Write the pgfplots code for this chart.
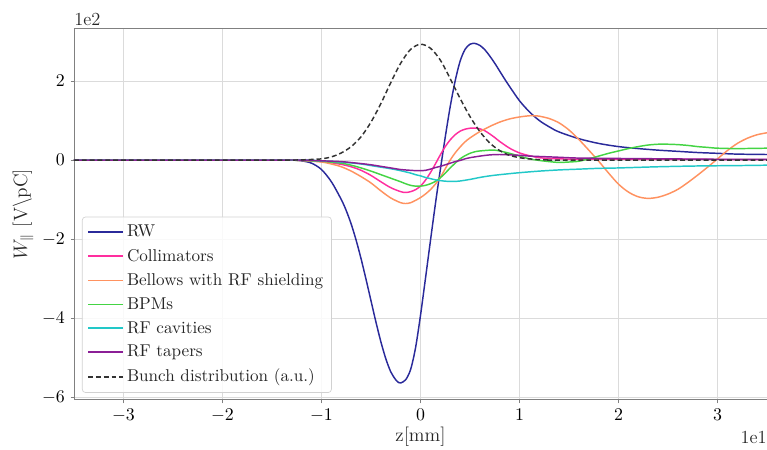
\documentclass[border=0pt]{standalone}
\usepackage{pgfplots}
\pgfplotsset{compat=1.18}

\definecolor{cRW}{HTML}{2A2A9A}
\definecolor{cColl}{HTML}{FF2E9F}
\definecolor{cBell}{HTML}{FF9260}
\definecolor{cBPM}{HTML}{44D444}
\definecolor{cCav}{HTML}{22C8C8}
\definecolor{cTap}{HTML}{8B1F96}
\definecolor{cBunch}{HTML}{333333}

\begin{document}
\begin{tikzpicture}
\useasboundingbox (-45.4pt,-30.1pt) rectangle (425.2pt,245.4pt);
\begin{axis}[
  name=ax, at={(0,0)}, anchor=south west,
  scale only axis, width=425.2pt, height=228.2pt,
  xmin=-35, xmax=35, ymin=-607, ymax=334,
  xtick={-30,-20,...,30}, xticklabels={$-3$,$-2$,$-1$,$0$,$1$,$2$,$3$},
  ytick={-600,-400,-200,0,200}, yticklabels={$-6$,$-4$,$-2$,$0$,$2$},
  grid=major, major grid style={color=black!14, line width=0.6pt},
  axis x line*=box, axis y line*=left,
  axis line style={-, color=black!50, line width=0.6pt},
  tick pos=left, tick align=outside, major tick length=2.1pt,
  tick style={color=black!50, line width=0.6pt},
  tick label style={font=\fontsize{11.3}{13}\selectfont},
  every axis x label/.style={at={(axis description cs:0.5,-0.0995)}, anchor=center},
  every axis y label/.style={at={(axis description cs:-0.0736,0.5)}, rotate=90, anchor=center},
  label style={font=\fontsize{11.8}{13}\selectfont, color=black!85},
  xlabel={z[mm]},
  ylabel={$W_{\parallel}$ [V\textbackslash pC]},
  legend cell align=left,
  legend image code/.code={\draw[#1, line width=1.1pt] (0cm,0cm) -- (0.75cm,0cm);},
  legend style={at={(axis description cs:0.0115,0.019)}, anchor=south west,
    draw=black!18, rounded corners=2pt, fill=white, fill opacity=0.85, text opacity=1,
    font=\fontsize{10.5}{12}\selectfont, text=black!85, row sep=2pt, inner sep=3pt},
]
% RW
\addplot[cRW, line width=0.9pt, smooth] coordinates {
(-35,0) (-16,0) (-13,0) (-12,-2) (-11,-8) (-10,-24) (-9,-55) (-8,-100) (-7.5,-128) (-7,-162)
(-6.5,-203) (-6,-250) (-5.5,-302) (-5,-356) (-4.5,-410) (-4,-460) (-3.5,-503) (-3,-536)
(-2.5,-556) (-2.2,-563) (-2,-564) (-1.5,-556) (-1,-530) (-0.5,-475) (0,-393) (0.5,-300)
(1,-205) (1.5,-112) (2,-25) (2.5,58) (3,135) (3.5,200) (4,250) (4.5,280) (5,293) (5.5,295)
(6,290) (6.5,279) (7,263) (7.5,245) (8,225) (8.5,205) (9,186) (10,150) (11,122) (12,100)
(13,84) (14,71) (16,54) (18,42) (20,34) (22,29) (24,25) (26,22) (28,19) (30,17) (32,15) (35,14)
};
\addlegendentry{RW}
% Collimators
\addplot[cColl, line width=0.9pt, smooth] coordinates {
(-35,0) (-16,0) (-14,0) (-12,-1) (-10,-4) (-9,-7) (-8,-11) (-7,-17) (-6,-26) (-5,-39)
(-4,-55) (-3,-70) (-2,-80) (-1.5,-82) (-1,-80) (-0.5,-75) (0,-66) (0.5,-51) (1,-32)
(1.5,-10) (2,13) (2.5,34) (3,51) (3.5,64) (4,73) (4.5,78) (5,80.5) (5.5,81) (6,79) (6.5,74)
(7,66) (7.5,57) (8,47) (9,30) (10,18) (11,11) (12,6) (13,4) (14,3) (16,2) (20,2) (35,1)
};
\addlegendentry{Collimators}
% Bellows
\addplot[cBell, line width=0.9pt, smooth] coordinates {
(-35,0) (-16,0) (-14,0) (-12,-1) (-10,-5) (-9,-10) (-8,-17) (-7,-28) (-6,-42) (-5,-58)
(-4,-78) (-3,-96) (-2,-108) (-1.5,-110) (-1,-108) (-0.5,-102) (0,-95) (0.5,-86) (1,-75)
(1.5,-61) (2,-44) (2.5,-22) (3,0) (3.5,18) (4,33) (4.5,46) (5,56) (6,72) (7,85) (8,96)
(9,104) (10,109) (11,112) (11.5,112) (12,111) (13,105) (14,94) (15,76) (16,52) (17,25)
(18,-3) (19,-33) (20,-61) (21,-81) (22,-93) (23,-97) (24,-94) (25,-86) (26,-74) (27,-57)
(28,-38) (29,-18) (30,3) (31,24) (32,42) (33,55) (34,64) (35,69)
};
\addlegendentry{Bellows with RF shielding}
% BPMs
\addplot[cBPM, line width=0.9pt, smooth] coordinates {
(-35,0) (-16,0) (-14,0) (-12,-1) (-10,-3) (-8,-8) (-7,-13) (-6,-20) (-5,-28) (-4,-37)
(-3,-46) (-2,-55) (-1.5,-60) (-1,-64) (-0.5,-66) (0,-66) (0.5,-64) (1,-60) (1.5,-54)
(2,-45) (2.5,-33) (3,-20) (3.5,-8) (4,3) (4.5,11) (5,17) (5.5,21) (6,23) (7,25) (7.5,25)
(8,23) (9,17) (10,10) (11,3) (12,-1) (13,-4) (14,-6) (15,-5) (16,-3) (17,3) (18,10)
(19,17) (20,23) (21,29) (22,34) (23,38) (24,40) (25,40) (26,39) (27,37) (28,34) (29,32)
(30,30) (32,29) (35,30)
};
\addlegendentry{BPMs}
% RF cavities
\addplot[cCav, line width=0.9pt, smooth] coordinates {
(-35,0) (-16,0) (-12,0) (-10,-2) (-8,-5) (-6,-10) (-5,-14) (-4,-18) (-3,-22) (-2,-27)
(-1,-33) (-0.5,-37) (0,-40) (0.5,-44) (1,-47) (1.5,-50) (2,-52) (2.5,-53.5) (3,-54)
(3.5,-54) (4,-53) (5,-49) (6,-44) (7,-40) (8,-37) (10,-32) (12,-28) (14,-25) (16,-23)
(18,-21) (20,-20) (24,-17) (28,-15) (32,-14) (35,-13)
};
\addlegendentry{RF cavities}
% RF tapers
\addplot[cTap, line width=0.9pt, smooth] coordinates {
(-35,0) (-16,0) (-12,0) (-10,-2) (-8,-4) (-6,-9) (-5,-12) (-4,-16) (-3,-20) (-2,-24)
(-1,-26) (-0.3,-27) (0,-27) (0.5,-26) (1,-23) (1.5,-19) (2,-16) (2.5,-12) (3,-8) (3.5,-4)
(4,-1) (4.5,3) (5,6) (5.5,8) (6,10) (7,13) (8,14) (9,13) (10,12) (11,10) (12,9) (14,7)
(16,5) (20,4) (25,3) (30,2) (35,2)
};
\addlegendentry{RF tapers}
% Bunch distribution
\addplot[cBunch, line width=0.9pt, dash pattern=on 3pt off 1.8pt, smooth] coordinates {
(-35,0) (-16,0) (-13,0) (-12,0.5) (-11,1.5) (-10,3) (-9,8) (-8,18) (-7,34) (-6,59)
(-5,96) (-4,143) (-3,196) (-2,245) (-1,280) (0,293) (1,283) (2,253) (3,206) (4,156)
(5,110) (6,72) (7,43) (8,24) (9,12) (10,6) (11,3) (12,1) (13,0.5) (14,0) (35,0)
};
\addlegendentry{Bunch distribution (a.u.)}
\end{axis}
\node[anchor=south west, inner sep=0pt, font=\fontsize{11.3}{13}\selectfont, text=black!85] at (0pt,229.4pt) {1e2};
\node[anchor=east, inner sep=0pt, font=\fontsize{11.3}{13}\selectfont, text=black!85] at (425.2pt,-23.3pt) {1e1};
\end{tikzpicture}
\end{document}
